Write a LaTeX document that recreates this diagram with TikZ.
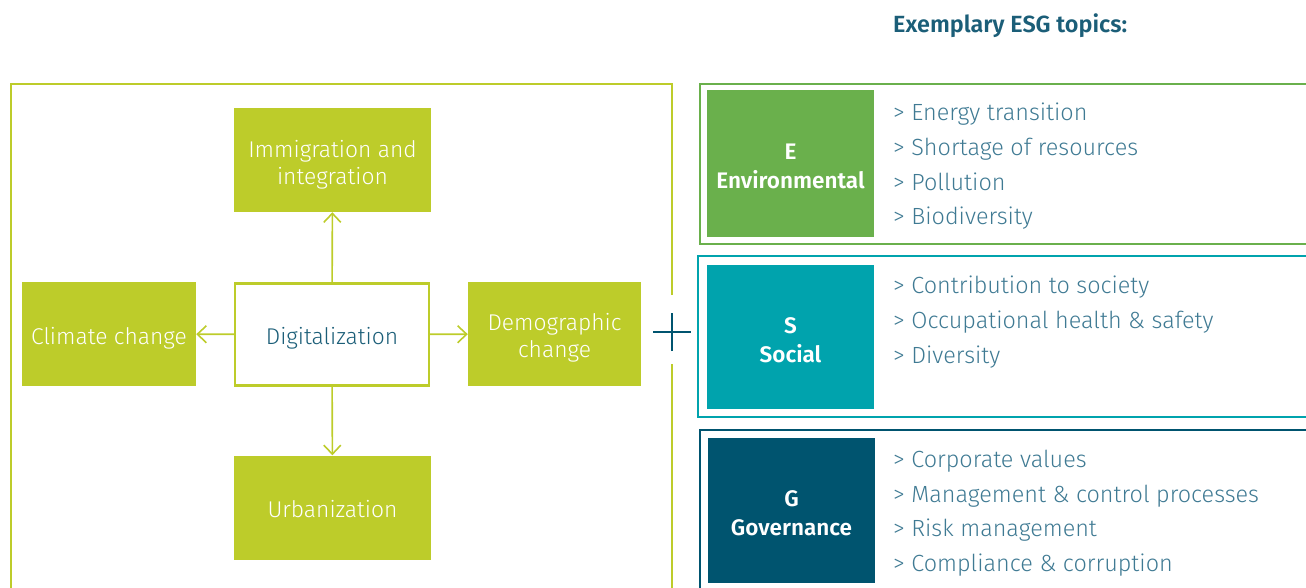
\documentclass[tikz,border=0pt]{standalone}
\usepackage{fontspec}
\setmainfont{Fira Sans}[UprightFont={* Light}, BoldFont={* SemiBold}]
\usetikzlibrary{arrows.meta, positioning}

\definecolor{lime}{RGB}{189,204,42}
\definecolor{envgreen}{RGB}{106,176,76}
\definecolor{socteal}{RGB}{0,163,173}
\definecolor{govblue}{RGB}{0,84,111}
\definecolor{topictext}{RGB}{63,122,147}
\definecolor{titletext}{RGB}{27,94,120}

\begin{document}
\begin{tikzpicture}[
    x=1pt, y=-1pt,
    trend/.style={rectangle, fill=lime, text=white, minimum width=197pt, minimum height=104pt, inner sep=0pt, align=center, font=\fontsize{22.8}{27}\selectfont, execute at begin node={\rule{0pt}{#1}}},
    trend/.default=25pt,
    esg/.style={rectangle, text=white, minimum width=167pt, minimum height=146pt, inner sep=0pt, align=center, font=\bfseries\fontsize{22.5}{29}\selectfont, execute at begin node={\rule{0pt}{50.5pt}}},
    topics/.style={anchor=north west, inner sep=0pt, align=left, text=topictext, font=\fontsize{23.4}{34.6}\selectfont},
    flow/.style={draw=lime, line width=1.6pt, -{Straight Barb[length=9pt, width=17pt, line width=1.6pt]}},
]
    \useasboundingbox (0,0) rectangle (1306,587);
    \clip (0,0) rectangle (1306,587);

    % megatrends
    \draw[lime, line width=2.6pt] (672,295) -- (672,84) -- (11,84) -- (11,600) -- (672,600) -- (672,364);
    \node[trend, draw=lime, fill=white, text=titletext, minimum width=194pt, minimum height=102pt, line width=2.2pt] (dig) at (332,334.5) {Digitalization};
    \node[trend=54pt] (imm) at (332.5,160) {Immigration and\\integration};
    \node[trend, minimum width=174pt] (clim) at (109,334) {Climate change};
    \node[trend=52.5pt, minimum width=173pt] (demo) at (554.5,334) {Demographic\\change};
    \node[trend=21pt] (urb) at (332.5,507.5) {Urbanization};
    \draw[flow] (dig) -- (imm);
    \draw[flow] (dig) -- (clim);
    \draw[flow] (dig) -- (demo);
    \draw[flow] (dig) -- (urb);

    % plus
    \coordinate (plus) at (672,332);
    \draw[govblue, line width=2.4pt] ([xshift=-19pt]plus) -- ([xshift=19pt]plus);
    \draw[govblue, line width=2.4pt] ([yshift=-19pt]plus) -- ([yshift=19pt]plus);

    % ESG
    \node[anchor=west, inner sep=0pt, text=titletext, font=\bfseries\fontsize{23.4}{27}\selectfont] (title) at (893,26) {Exemplary ESG topics:};

    \draw[envgreen, line width=2pt] (1330,84) -- (700,84) -- (700,244) -- (1330,244);
    \draw[socteal, line width=2pt] (1330,256) -- (698,256) -- (698,417) -- (1330,417);
    \draw[govblue, line width=2pt] (1330,430) -- (700,430) -- (700,600);

    \node[esg, fill=envgreen, minimum height=147pt] (env) at (790.5,163.5) {E\\Environmental};
    \node[esg, fill=socteal, minimum height=144pt] (soc) at (790.5,337) {S\\Social};
    \node[esg, fill=govblue, minimum height=145pt] (gov) at (791.5,510.5) {G\\Governance};

    \node[topics] (envlist) at (893,103) {> Energy transition\\> Shortage of resources\\> Pollution\\> Biodiversity};
    \node[topics] (soclist) at (893,276) {> Contribution to society\\> Occupational health \& safety\\> Diversity};
    \node[topics] (govlist) at (893,450) {> Corporate values\\> Management \& control processes\\> Risk management\\> Compliance \& corruption};
\end{tikzpicture}
\end{document}
